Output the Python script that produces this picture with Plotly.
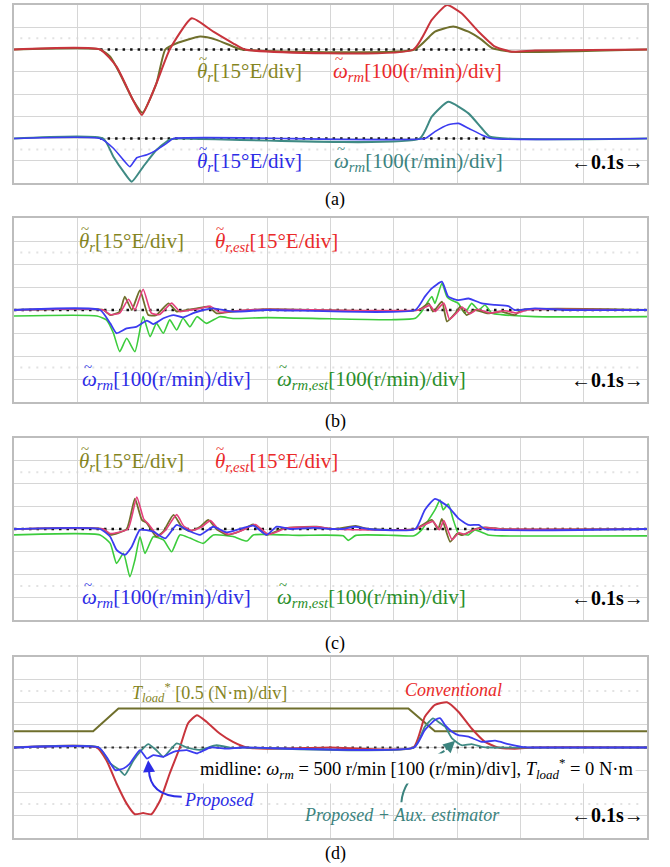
import numpy as np
import plotly.graph_objects as go

# ---------------- data (time in s, 0.1 s/div) ----------------
# (a) upper pair: conventional (offset +2 div)
A_T_W = [0, 0.136, 0.162, 0.188, 0.202, 0.225, 0.246, 0.281, 0.315, 0.346, 0.365, 0.631, 0.66, 0.684, 0.707, 0.734, 0.76, 0.786, 0.823, 1.0]
A_W_CONV = [0, 0, -77, -227, -294, -152, 0, 140, 80, 28, 0, 0, 133, 200, 163, 80, 13, -10, -5, 0]          # r/min
A_T_TH = [0, 0.136, 0.152, 0.167, 0.188, 0.203, 0.225, 0.239, 0.257, 0.294, 0.32, 0.346, 0.36, 0.633, 0.665, 0.694, 0.718, 0.739, 0.755, 0.786, 1.0]
A_TH_CONV = [0, 0, -4.8, -16, -34, -42.6, -22.8, 0, 4.2, 8.7, 6.5, 2, 0, 0, 12, 15.5, 12, 6.5, 1, -1.5, 0]  # deg E
# (a) lower pair: proposed (offset -2 div)
A_T_W2 = [0, 0.141, 0.157, 0.173, 0.186, 0.204, 0.225, 0.246, 0.26, 0.641, 0.66, 0.686, 0.718, 0.739, 0.752, 1.0]
A_W_PROP = [0, 0, -82, -149, -194, -127, -52, -5, 0, 0, 98, 165, 113, 46, 8, 0]
A_T_TH2 = [0, 0.136, 0.157, 0.173, 0.183, 0.194, 0.21, 0.225, 0.241, 0.252, 0.649, 0.665, 0.686, 0.702, 0.718, 0.739, 0.755, 1.0]
A_TH_PROP = [0, 0, -6.6, -14.6, -19, -13, -11, -7.8, -3.3, 0, 0, 4.6, 9.2, 10.2, 6.9, 2.4, 0, 0]
A_REF_T = [0.136, 0.752]

# (b)
B_T_W = [0, 0.136, 0.152, 0.162, 0.178, 0.194, 0.21, 0.22, 0.236, 0.252, 0.267, 0.283, 0.299, 0.315, 0.346, 0.399, 0.634, 0.649, 0.66, 0.676, 0.686, 0.702, 0.718, 0.739, 0.76, 0.781, 0.791, 0.823, 0.875, 1.0]
B_W = [0, 0, -58, -101, -80, -72, -46, -61, -36, -22, -32, -14, 0, 7, -7, 0, 0, 58, 94, 123, 58, 43, 50, 29, 22, 17, 0, 7, 0, 0]
B_T_WEST = [0, 0.131, 0.146, 0.157, 0.167, 0.178, 0.191, 0.204, 0.215, 0.225, 0.236, 0.246, 0.257, 0.267, 0.278, 0.289, 0.304, 0.325, 0.346, 0.4, 0.5, 0.6, 0.634, 0.644, 0.66, 0.665, 0.676, 0.684, 0.691, 0.702, 0.712, 0.723, 0.734, 0.744, 0.755, 0.77, 0.823, 1.0]
B_WEST = [-26, -26, -43, -100, -181, -123, -181, -29, -116, -58, -101, -43, -87, -36, -73, -29, -58, -29, -37, -33, -38, -42, -36, -7, 58, 29, 116, 58, 43, 29, -14, 29, 0, 22, -14, -20, -29, -29]
B_T_TH = [0, 0.141, 0.152, 0.167, 0.175, 0.186, 0.199, 0.212, 0.225, 0.244, 0.257, 0.273, 0.289, 0.307, 0.32, 0.346, 0.399, 0.639, 0.655, 0.662, 0.676, 0.684, 0.697, 0.705, 0.715, 0.728, 0.749, 0.77, 0.791, 0.802, 1.0]
B_TH = [0, 0, -3.3, -1, 8.7, 0, 13, -3.3, -3.3, 4.3, -1, 0, 1, 2.2, -2.2, -1, 0.5, 0, 4.3, -1, 5.4, -7.5, -2.2, 2.2, -3.3, 0, -2.2, -1, -3.3, 0, 0]
B_T_THEST = [0, 0.141, 0.152, 0.167, 0.181, 0.191, 0.204, 0.217, 0.23, 0.249, 0.262, 0.278, 0.294, 0.31, 0.325, 0.35, 0.4, 0.639, 0.657, 0.665, 0.679, 0.688, 0.7, 0.708, 0.72, 0.732, 0.752, 0.775, 0.795, 0.81, 1.0]
B_THEST = [0, 0, -3, -2, 7, 0, 13.5, -2, -3, 4.5, -1, 0, 1, 2.5, -1.5, -0.5, 0.5, 0, 3, -1, 4.5, -6, -1.5, 2, -2.5, 0.5, -2, -0.5, -2, 0, 0]

# (c)
C_T_W = [0, 0.136, 0.152, 0.162, 0.175, 0.186, 0.199, 0.22, 0.239, 0.257, 0.273, 0.294, 0.315, 0.336, 0.378, 0.399, 0.415, 0.436, 0.473, 0.504, 0.518, 0.539, 0.56, 0.634, 0.649, 0.665, 0.686, 0.702, 0.718, 0.734, 0.744, 1.0]
C_W = [0, 0, -34, -92, -114, -78, -4, -12, -41, 18, -4, -26, 10, -15, 15, -26, 10, 0, 5, 0, 0, 10, 0, 0, 84, 132, 98, 47, 18, 18, 0, 0]
C_T_WEST = [0, 0.136, 0.152, 0.162, 0.173, 0.183, 0.191, 0.199, 0.207, 0.22, 0.236, 0.249, 0.262, 0.278, 0.299, 0.315, 0.346, 0.368, 0.378, 0.45, 0.52, 0.528, 0.54, 0.6, 0.632, 0.644, 0.665, 0.673, 0.678, 0.686, 0.694, 0.702, 0.718, 0.728, 0.749, 0.77, 1.0]
C_WEST = [-26, -26, -63, -151, -107, -210, -136, -34, -107, -34, -48, -100, -26, -40, -63, -26, -33, -53, -26, -28, -30, -50, -28, -28, -30, -4, 84, 127, 84, 110, 40, -18, -26, -4, -26, -30, -30]
C_T_TH = [0, 0.141, 0.152, 0.178, 0.191, 0.202, 0.21, 0.225, 0.236, 0.252, 0.265, 0.278, 0.294, 0.307, 0.32, 0.336, 0.357, 0.378, 0.399, 0.426, 0.478, 0.504, 0.54, 0.56, 0.634, 0.66, 0.67, 0.676, 0.689, 0.7, 0.708, 0.728, 0.744, 0.77, 1.0]
C_TH = [0, 0, -3.9, 0, 20, 6, 3.8, -5, -1.5, 9.3, 1.5, -1.5, 1.5, 6, 0, -3.9, -1.5, 3, -3.9, 0.5, 1.5, 0, 2, 0, 0, 6, 0, 6.6, -8.4, -3, -4, 0, 1, 0, 0]
C_T_THEST = [0, 0.141, 0.152, 0.18, 0.194, 0.205, 0.213, 0.228, 0.239, 0.257, 0.268, 0.281, 0.297, 0.31, 0.323, 0.339, 0.36, 0.381, 0.402, 0.43, 0.48, 0.504, 0.634, 0.662, 0.672, 0.679, 0.692, 0.703, 0.711, 0.73, 0.746, 0.77, 1.0]
C_THEST = [0, 0, -3, 0, 21, 6.5, 3, -4.5, -1, 9.5, 2, -1, 1.5, 5.5, 0, -3.5, -1, 3, -3.5, 0.5, 1.5, 0, 0, 5, -0.5, 5.5, -7, -2.5, -3.5, 0, 1, 0, 0]

# (d)
D_T_CONV = [0, 0.131, 0.146, 0.162, 0.178, 0.191, 0.204, 0.217, 0.231, 0.246, 0.262, 0.275, 0.289, 0.304, 0.325, 0.346, 0.368, 0.4, 0.5, 0.631, 0.649, 0.665, 0.684, 0.702, 0.723, 0.744, 0.765, 0.791, 0.823, 1.0]
D_W_CONV = [0, 0, -56, -159, -248, -295, -290, -295, -233, -115, 0, 107, 143, 114, 62, 25, 0, -5, 0, 0, 136, 188, 200, 158, 84, 25, 0, -5, 0, 0]
D_T_PROP = [0, 0.134, 0.146, 0.16, 0.173, 0.183, 0.199, 0.21, 0.22, 0.236, 0.252, 0.273, 0.289, 0.31, 0.336, 0.36, 0.632, 0.649, 0.665, 0.673, 0.681, 0.692, 0.702, 0.718, 0.739, 0.76, 0.781, 0.802, 0.823, 1.0]
D_W_PROP = [0, 0, -41, -100, -93, -71, -12, -49, -34, -41, -19, -12, -26, 0, -5, 0, 0, 77, 121, 130, 99, 70, 55, 48, 25, 30, 15, 3, 0, 0]
D_T_AUX = [0, 0.134, 0.152, 0.167, 0.175, 0.189, 0.199, 0.212, 0.225, 0.236, 0.257, 0.273, 0.294, 0.32, 0.346, 0.36, 0.632, 0.649, 0.662, 0.67, 0.681, 0.692, 0.707, 0.723, 0.739, 0.755, 1.0]
D_W_AUX = [0, 0, -70, -100, -122, -56, -19, 15, -12, -41, 18, 0, -10, 10, -3, 0, 0, 92, 129, 114, 92, 40, 10, 15, 3, 0, 0]
D_T_LOAD = [0, 0.125, 0.165, 0.623, 0.665, 1.0]
D_LOAD = [0, 0, 0.5, 0.5, 0, 0]    # N*m
REF_T = [0, 1.0]

# ---------------- figure ----------------
W, H = 670, 867
FONT = "Liberation Serif, Times New Roman, serif"
OLIVE_L, OLIVE_T = "#6f6f2c", "#85851f"
RED_L, RED_T = "#c8343c", "#ea2a2a"
BLUE_L, BLUE_T = "#3c3cf0", "#2c2ce6"
TEAL_L, TEAL_T = "#3f8a84", "#3b837e"
GREEN_L, GREEN_T = "#3ccc3c", "#2a8f2a"
PINK_L = "#e4407c"

PANELS = [(5, 183), (218, 402), (438, 620), (657, 838)]   # pixel rows (top, bottom)
X_LEFT, X_RIGHT = 14, 647
PLOT_W = float(X_RIGHT - X_LEFT)
fig = go.Figure()


def sfx(p):
    return "" if p == 1 else str(p)


def divpx(p):
    top, bot = PANELS[p - 1]
    return (bot - top) / 8.0


def trace(p, t, v, per_div, offset, color, width=2.0, dash=None, smooth=True):
    y = offset + np.asarray(v, float) / per_div
    ln = dict(color=color, width=width)
    if dash:
        ln["dash"] = dash
    if smooth:
        ln["shape"] = "spline"
        ln["smoothing"] = 0.5
    fig.add_trace(go.Scatter(x=t, y=y, mode="lines", line=ln, xaxis="x" + sfx(p),
                             yaxis="y" + sfx(p), hoverinfo="skip", showlegend=False))


DOT = "2.5px,5px"
# (a)
trace(1, A_REF_T, [0, 0], 1, 2, "#111111", 2.5, DOT, False)
trace(1, A_REF_T, [0, 0], 1, -2, "#111111", 2.5, DOT, False)
trace(1, A_T_TH, A_TH_CONV, 15, 2, OLIVE_L, 2)
trace(1, A_T_W, A_W_CONV, 100, 2, RED_L, 2)
trace(1, A_T_W2, A_W_PROP, 100, -2, TEAL_L, 2)
trace(1, A_T_TH2, A_TH_PROP, 15, -2, BLUE_L, 1.6)
# (b)
trace(2, REF_T, [0, 0], 1, 0, "#111111", 2.5, DOT, False)
trace(2, B_T_WEST, B_WEST, 100, 0, GREEN_L, 1.6)
trace(2, B_T_TH, B_TH, 15, 0, OLIVE_L, 1.8)
trace(2, B_T_THEST, B_THEST, 15, 0, PINK_L, 1.6)
trace(2, B_T_W, B_W, 100, 0, BLUE_L, 1.8)
# (c)
trace(3, REF_T, [0, 0], 1, 0, "#111111", 2.5, DOT, False)
trace(3, C_T_WEST, C_WEST, 100, 0, GREEN_L, 1.6)
trace(3, C_T_TH, C_TH, 15, 0, OLIVE_L, 1.8)
trace(3, C_T_THEST, C_THEST, 15, 0, PINK_L, 1.6)
trace(3, C_T_W, C_W, 100, 0, BLUE_L, 1.8)
# (d)
trace(4, REF_T, [0, 0], 1, 0, "#333333", 2.2, DOT, False)
trace(4, D_T_LOAD, D_LOAD, 0.5, 0.72, OLIVE_L, 2, None, False)
trace(4, D_T_CONV, D_W_CONV, 100, 0, RED_L, 2)
trace(4, D_T_AUX, D_W_AUX, 100, 0, TEAL_L, 1.8)
trace(4, D_T_PROP, D_W_PROP, 100, 0, BLUE_L, 1.8)

layout = dict(width=W, height=H, margin=dict(l=0, r=0, t=0, b=0, pad=0),
              paper_bgcolor="white", plot_bgcolor="white", showlegend=False)
shapes = []
for i, (top, bot) in enumerate(PANELS, start=1):
    s = sfx(i)
    layout["xaxis" + s] = dict(domain=[X_LEFT / W, X_RIGHT / W], range=[0, 1],
                               dtick=0.1, tick0=0,
                               showgrid=True, gridcolor="#d6d6d6", gridwidth=1, zeroline=False,
                               showticklabels=False, ticks="", showline=True, mirror=True,
                               linecolor="#bdbdbd", linewidth=1.5, anchor="y" + s, fixedrange=True)
    layout["yaxis" + s] = dict(domain=[1 - bot / H, 1 - top / H], range=[-4, 4],
                               dtick=1, tick0=0,
                               showgrid=True, gridcolor="#d6d6d6", gridwidth=1, zeroline=False,
                               showticklabels=False, ticks="", showline=True, mirror=True,
                               linecolor="#bdbdbd", linewidth=1.5, anchor="x" + s, fixedrange=True)
    for yy in (2.5, -2.5):
        shapes.append(dict(type="line", xref="x" + s, yref="y" + s, x0=0.01, x1=0.99, y0=yy, y1=yy,
                           line=dict(color="#e2e2e2", width=2, dash="2px,6px"), layer="below"))

# curved arrows in (d)
shapes.append(dict(type="path", xref="x4", yref="y4", path="M 0.265,-2.18 Q 0.214,-2.15 0.213,-0.95",
                   line=dict(color=BLUE_T, width=2)))
shapes.append(dict(type="path", xref="x4", yref="y4", path="M 0.612,-2.42 Q 0.615,-1.2 0.68,-0.15",
                   line=dict(color=TEAL_T, width=2)))
layout["shapes"] = shapes

ann = []


def lab(p, x, y, text, color, size=21, xanchor="left", bg=None, tilde_dx=None):
    s = sfx(p)
    d = dict(xref="x" + s, yref="y" + s, x=x, y=y, text=text, showarrow=False, xanchor=xanchor,
             yanchor="middle", font=dict(family=FONT, size=size, color=color))
    if bg:
        d["bgcolor"] = bg
    ann.append(d)
    if tilde_dx is not None:
        # accent tilde placed over the leading Greek letter
        ann.append(dict(xref="x" + s, yref="y" + s, x=x + tilde_dx / PLOT_W,
                        y=y + 12.5 / divpx(p), text="~", showarrow=False,
                        xanchor="center", yanchor="middle",
                        font=dict(family=FONT, size=15, color=color)))


TH_R = "<i>θ</i><sub><i>r</i></sub>[15°E/div]"
TH_EST = "<i>θ</i><sub><i>r,est</i></sub>[15°E/div]"
W_RM = "<i>ω</i><sub><i>rm</i></sub>[100(r/min)/div]"
W_EST = "<i>ω</i><sub><i>rm,est</i></sub>[100(r/min)/div]"
SCALE = "<b>←0.1s→</b>"
TDX_TH, TDX_W = 7.5, 8.5

lab(1, 0.286, 1.0, TH_R, OLIVE_T, tilde_dx=TDX_TH)
lab(1, 0.500, 1.0, W_RM, RED_T, tilde_dx=TDX_W)
lab(1, 0.286, -3.05, TH_R, BLUE_T, tilde_dx=TDX_TH)
lab(1, 0.503, -3.05, W_RM, TEAL_T, tilde_dx=TDX_W)
lab(1, 0.999, -3.05, SCALE, "black", 20, "right")
for p, yt, yb in ((2, 2.96, -3.04), (3, 2.95, -3.03)):
    lab(p, 0.100, yt, TH_R, OLIVE_T, tilde_dx=TDX_TH)
    lab(p, 0.314, yt, TH_EST, RED_T, tilde_dx=TDX_TH)
    lab(p, 0.104, yb, W_RM, BLUE_T, tilde_dx=TDX_W)
    lab(p, 0.412, yb, W_EST, GREEN_T, tilde_dx=TDX_W)
    lab(p, 0.999, yb, SCALE, "black", 20, "right")
lab(4, 0.183, 2.45, "<i>T</i><sub><i>load</i></sub><sup>*</sup> [0.5 (N·m)/div]", OLIVE_T, 18)
lab(4, 0.615, 2.54, "<i>Conventional</i>", RED_T, 18)
lab(4, 0.291, -0.92, "midline: <i>ω</i><sub><i>rm</i></sub> = 500 r/min [100 (r/min)/div], "
                     "<i>T</i><sub><i>load</i></sub><sup>*</sup> = 0 N·m", "black", 18.5, "left", "white")
lab(4, 0.266, -2.32, "<i>Proposed</i>", BLUE_T, 18)
lab(4, 0.455, -2.98, "<i>Proposed + Aux. estimator</i>", TEAL_T, 18)
lab(4, 0.999, -2.98, SCALE, "black", 20, "right")

# arrowheads
ann.append(dict(xref="x4", yref="y4", axref="x4", ayref="y4", x=0.212, y=-0.56, ax=0.213, ay=-0.95,
                text="", showarrow=True, arrowhead=2, arrowsize=1.2, arrowwidth=2, arrowcolor=BLUE_T))
ann.append(dict(xref="x4", yref="y4", axref="x4", ayref="y4", x=0.697, y=0.3, ax=0.68, ay=-0.15,
                text="", showarrow=True, arrowhead=2, arrowsize=1.2, arrowwidth=2, arrowcolor=TEAL_T))
# captions
for txt, py in (("(a)", 199), ("(b)", 421), ("(c)", 643), ("(d)", 853)):
    ann.append(dict(xref="paper", yref="paper", x=335 / W, y=1 - py / H, text=txt,
                    showarrow=False, xanchor="center", yanchor="middle",
                    font=dict(family=FONT, size=18, color="black")))
layout["annotations"] = ann
fig.update_layout(**layout)
# remove the browser's default 8 px body margin so the figure sits at the window origin
fig.write_html("out.html", config={"displayModeBar": False},
               post_script="document.body.style.margin='0px';document.body.style.overflow='hidden';")
